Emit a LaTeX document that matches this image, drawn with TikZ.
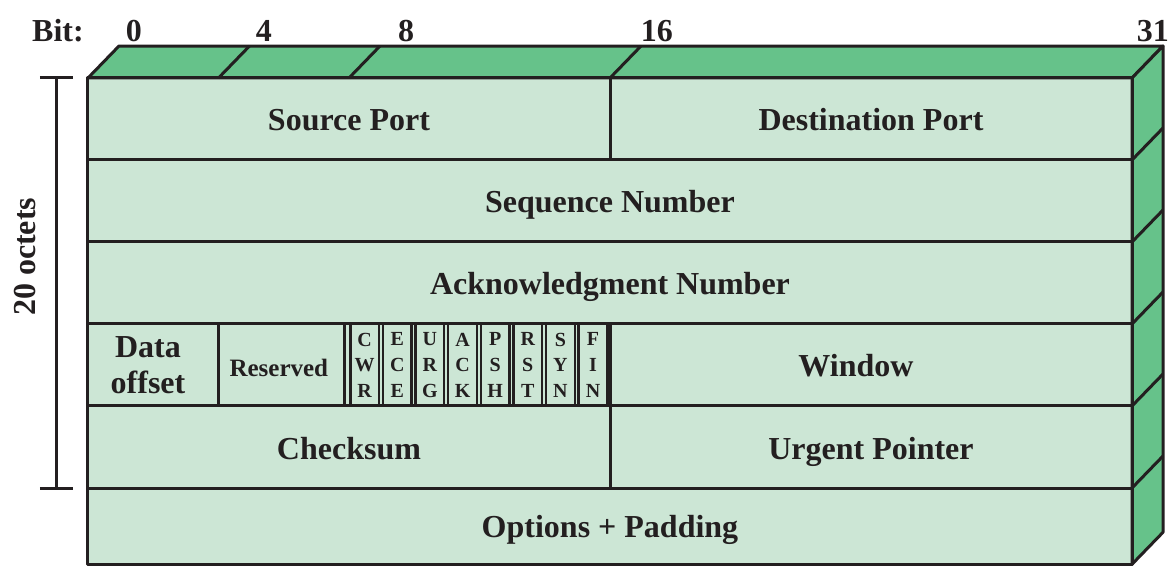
\documentclass[tikz,border=0pt]{standalone}
\usepackage{fontspec}
\setmainfont{Liberation Serif}
\definecolor{topgreen}{RGB}{102,194,138}
\definecolor{facegreen}{RGB}{204,230,213}
\definecolor{ink}{RGB}{35,31,32}
\tikzset{
  bigtext/.style={font=\fontsize{16}{18}\selectfont\bfseries, text=ink, align=center, inner sep=0pt},
  field/.style={bigtext, text height=13pt, text depth=1pt},
  flag/.style={font=\fontsize{10}{12.8}\selectfont\bfseries, text=ink, align=center, inner sep=0pt},
}
\begin{document}
\begin{tikzpicture}[x=16.3125pt,y=-41pt,line width=1.5pt,color=ink,line join=round]
	\useasboundingbox (-2.697,-0.951) rectangle (33.318,5.951);
	% faces of the block
	\fill[facegreen] (0,0) rectangle (32,5.93);
	\filldraw[fill=topgreen] (0,0) -- (0.95,-0.39) -- (32.95,-0.39) -- (32,0) -- cycle;
	\filldraw[fill=topgreen] (32,0) -- (32.95,-0.39) -- (32.95,5.54) -- (32,5.93) -- cycle;
	\draw (0,0) rectangle (32,5.93);
	% rows and top edges
	\foreach \r in {1,...,5} {
		\draw (0,\r) -- (32,\r);
		\draw (32,\r) -- ++(0.95,-0.39);
	}
	\foreach \b in {4,8,16}
		\draw (\b,0) -- ++(0.95,-0.39);
	\draw (16,0) -- (16,1);
	\draw (16,3) -- (16,5);
	\draw (4,3) -- (4,4);
	\draw (7.85,3) -- (7.85,4);
	% flag bits
	\foreach \nm/\txt [count=\i from 0] in {cwr/C\\W\\R,ece/E\\C\\E,urg/U\\R\\G,ack/A\\C\\K,psh/P\\S\\H,rst/R\\S\\T,syn/S\\Y\\N,fin/F\\I\\N}
		\draw[line width=1.2pt] (8+\i+0.04,3) rectangle (8+\i+0.92,4) node[flag,midway] (\nm) {\txt};
	% field names
	\node[field] (srcport) at (8,0.5) {Source Port};
	\node[field] (dstport) at (24,0.5) {Destination Port};
	\node[field] (seqnum) at (16,1.5) {Sequence Number};
	\node[field] (acknum) at (16,2.5) {Acknowledgment Number};
	\node[bigtext] (offset) at (1.84,3.5) {Data\\offset};
	\node[field,font=\fontsize{12.5}{15}\selectfont\bfseries] (reserved) at (5.85,3.5) {Reserved};
	\node[field] (window) at (23.54,3.5) {Window};
	\node[field] (checksum) at (8,4.5) {Checksum};
	\node[field] (urgptr) at (24,4.5) {Urgent Pointer};
	\node[field] (options) at (16,5.46) {Options + Padding};
	% bit numbers
	\node[field] (bitlbl) at (-0.92,-0.59) {Bit:};
	\foreach \b/\x in {0/1.41,4/5.39,8/9.75,16/17.44,31/32.64}
		\node[field] (bit\b) at (\x,-0.59) {\b};
	% header length bracket
	\coordinate (octtop) at (-0.95,0);
	\coordinate (octbot) at (-0.95,5);
	\draw (octtop) -- (octbot);
	\draw ([xshift=-8.5pt]octtop) -- ([xshift=8pt]octtop);
	\draw ([xshift=-8.5pt]octbot) -- ([xshift=8pt]octbot);
	\node[field,rotate=90] (octets) at (-1.99,2.18) {20 octets};
\end{tikzpicture}
\end{document}
